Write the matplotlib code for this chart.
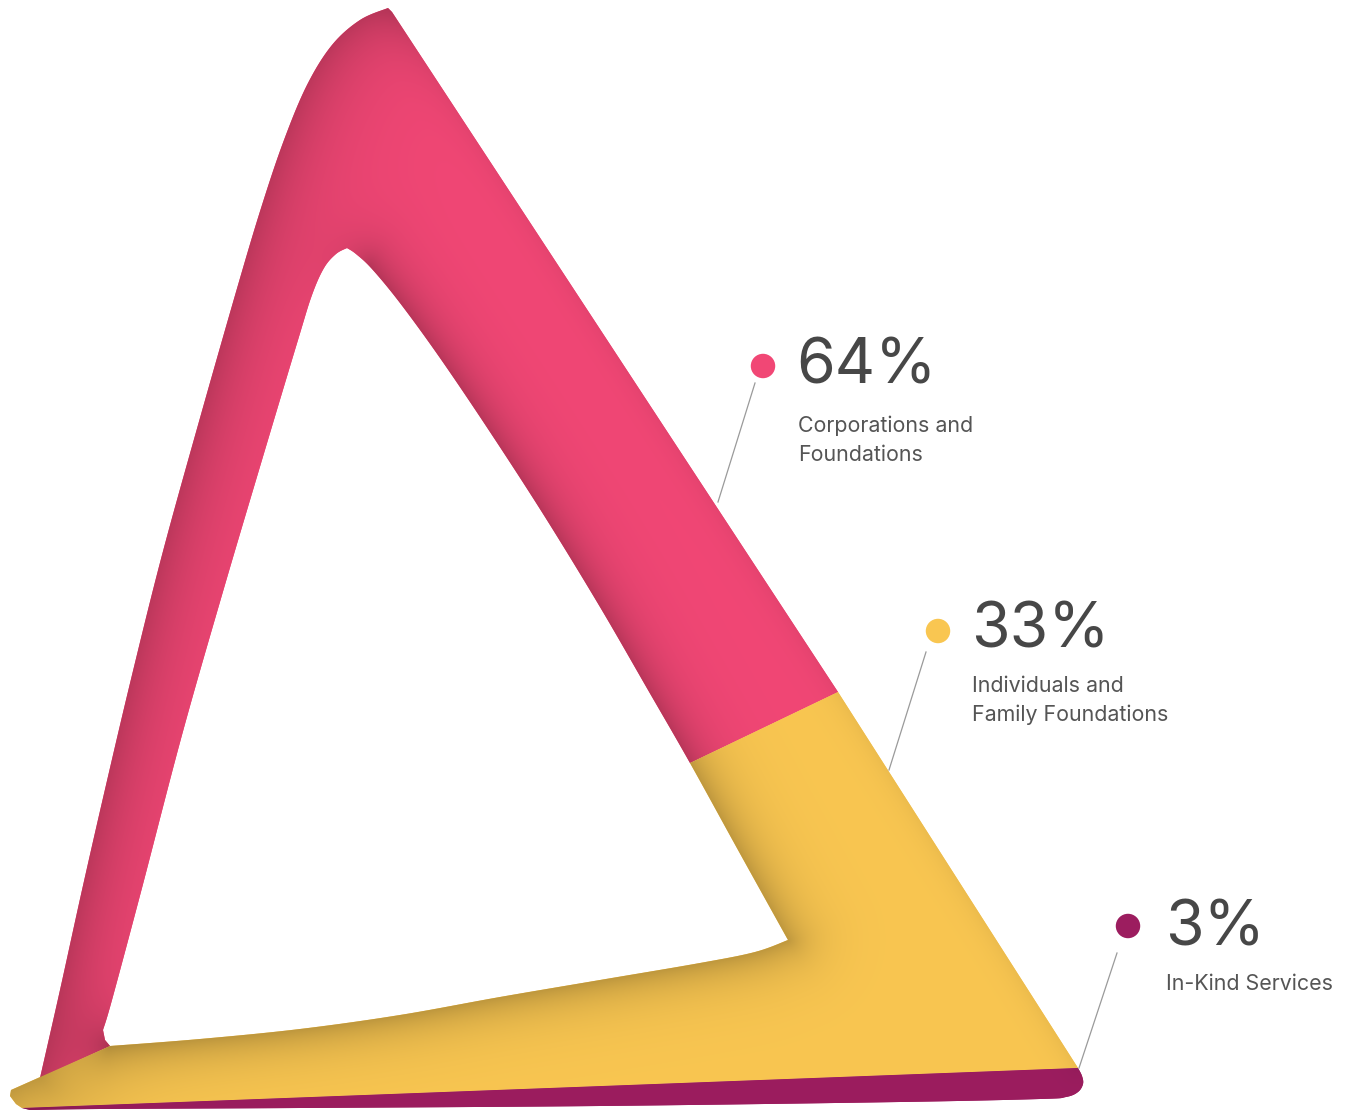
import numpy as np
import matplotlib
matplotlib.use("Agg")
import matplotlib.pyplot as plt
from matplotlib.patches import Polygon

# data
shares = [64, 33, 3]
labels = [["Corporations and", "Foundations"],
          ["Individuals and", "Family Foundations"],
          ["In-Kind Services"]]
colors = ["#F14775", "#F9C651", "#9C1D5F"]
text_color = "#474747"

W, H = 1351, 1110


def smooth(p, n=10):
    # catmull-rom through the given points
    p = np.asarray(p, float)
    q = np.vstack([p[0], p, p[-1]])
    out = []
    for i in range(1, len(q) - 2):
        p0, p1, p2, p3 = q[i - 1], q[i], q[i + 1], q[i + 2]
        for t in np.linspace(0, 1, n, endpoint=False):
            out.append(0.5 * (2 * p1 + (-p0 + p2) * t + (2 * p0 - 5 * p1 + 4 * p2 - p3) * t * t
                              + (-p0 + 3 * p1 - 3 * p2 + p3) * t ** 3))
    out.append(p[-1])
    return [tuple(v) for v in out]


# outline of the ribbon triangle (pixel space, y down)
outer_left = smooth([(40, 1078), (60, 990), (82, 890), (106, 785), (132, 675), (162, 555),
                     (198, 425), (238, 285), (262, 205), (284, 140), (307, 85), (332, 45),
                     (360, 20), (388, 8)])
inner_right = smooth([(788, 940), (738, 850), (690, 763), (648, 690), (600, 607),
                      (545, 517), (490, 432), (440, 358), (400, 303), (372, 269), (356, 254),
                      (347, 248)])
inner_left = smooth([(347, 248), (336, 254), (324, 268), (312, 295), (298, 340), (262, 460),
                     (222, 595), (182, 735), (142, 888), (112, 1000), (103, 1030)])
inner_left = inner_left + [(105, 1040), (110, 1046)]
inner_bottom = smooth([(110, 1046), (200, 1039), (300, 1029), (400, 1015), (500, 997),
                       (600, 980), (700, 963), (755, 952), (788, 940)])
yellow_tip = [(16, 1104), (10, 1096), (11, 1090)]
purple_bottom = smooth([(1078, 1068), (1082, 1076), (1083, 1084), (1078, 1092), (1066, 1097),
                        (1040, 1099), (900, 1102), (600, 1106), (300, 1108), (100, 1109), (30, 1110)])

i_split = int(np.argmin([abs(x - 690) + abs(y - 763) for x, y in inner_right]))

pink_poly = outer_left + [(392, 12), (838, 692)] + inner_right[i_split:] + inner_left[1:]
yellow_poly = ([(838, 692), (1078, 1068), (22, 1108)] + yellow_tip
               + inner_bottom + inner_right[1:i_split + 1])
purple_poly = [(22, 1108)] + purple_bottom

shadow_edge = inner_bottom + [v for v in inner_right[1:] if v[1] > 266]
left_edge = [(11, 1092), (22, 1085)] + outer_left
right_edge = [(392, 12), (838, 692), (1078, 1068)]

# shading grid
step = 2
yy, xx = np.mgrid[0:H:step, 0:W:step] + step / 2
pts = np.column_stack([xx.ravel(), yy.ravel()])


def seg_dist(p, poly):
    d = np.full(len(p), np.inf)
    for (x0, y0), (x1, y1) in zip(poly[:-1], poly[1:]):
        dx, dy = x1 - x0, y1 - y0
        L = dx * dx + dy * dy
        if L == 0:
            continue
        t = np.clip(((p[:, 0] - x0) * dx + (p[:, 1] - y0) * dy) / L, 0, 1)
        d = np.minimum(d, np.hypot(p[:, 0] - x0 - t * dx, p[:, 1] - y0 - t * dy))
    return d


d_hole = seg_dist(pts, shadow_edge).reshape(xx.shape)
d_left = seg_dist(pts, left_edge).reshape(xx.shape)
d_right = seg_dist(pts, right_edge).reshape(xx.shape)
shade = 1 - 0.24 * np.exp(-d_hole / 24) - 0.22 * np.exp(-d_left / 42) - 0.05 * np.exp(-d_right / 12)
shade = np.clip(shade, 0.7, 1)

fig = plt.figure(figsize=(W / 100, H / 100), dpi=100)
ax = fig.add_axes([0, 0, 1, 1])
ax.set_xlim(0, W)
ax.set_ylim(H, 0)
ax.axis("off")

for poly, col in zip([pink_poly, yellow_poly, purple_poly], colors):
    patch = Polygon(poly, closed=True, facecolor=col, edgecolor="none", zorder=1)
    ax.add_patch(patch)
    rgb = np.array(matplotlib.colors.to_rgb(col))
    img = np.clip(shade[..., None] * rgb, 0, 1)
    im = ax.imshow(img, extent=[0, W, H, 0], interpolation="bilinear", zorder=2)
    im.set_clip_path(patch)

# annotations
dots = [(763, 366), (938, 631), (1128, 926)]
leaders = [((755, 383), (718, 502)), ((926, 652), (889, 770)), ((1117, 953), (1079, 1068))]
num_pos = [(796, 384), (971, 648), (1165, 946)]
lab_pos = [(798, 432), (972, 692), (1166, 990)]

for i in range(3):
    (x0, y0), (x1, y1) = leaders[i]
    ax.plot([x0, x1], [y0, y1], color="#9a9a9a", lw=0.9, zorder=3)
    ax.scatter([dots[i][0]], [dots[i][1]], s=310, color=colors[i], edgecolors="none", zorder=4)
    ax.text(num_pos[i][0], num_pos[i][1], f"{shares[i]}%", fontsize=45, family="Inter",
            color=text_color, va="baseline", ha="left", zorder=5)
    for j, line in enumerate(labels[i]):
        ax.text(lab_pos[i][0], lab_pos[i][1] + 29 * j, line, fontsize=15.4, family="Inter",
                color="#555555", va="baseline", ha="left", zorder=5)

fig.savefig("out.png", dpi=100)
